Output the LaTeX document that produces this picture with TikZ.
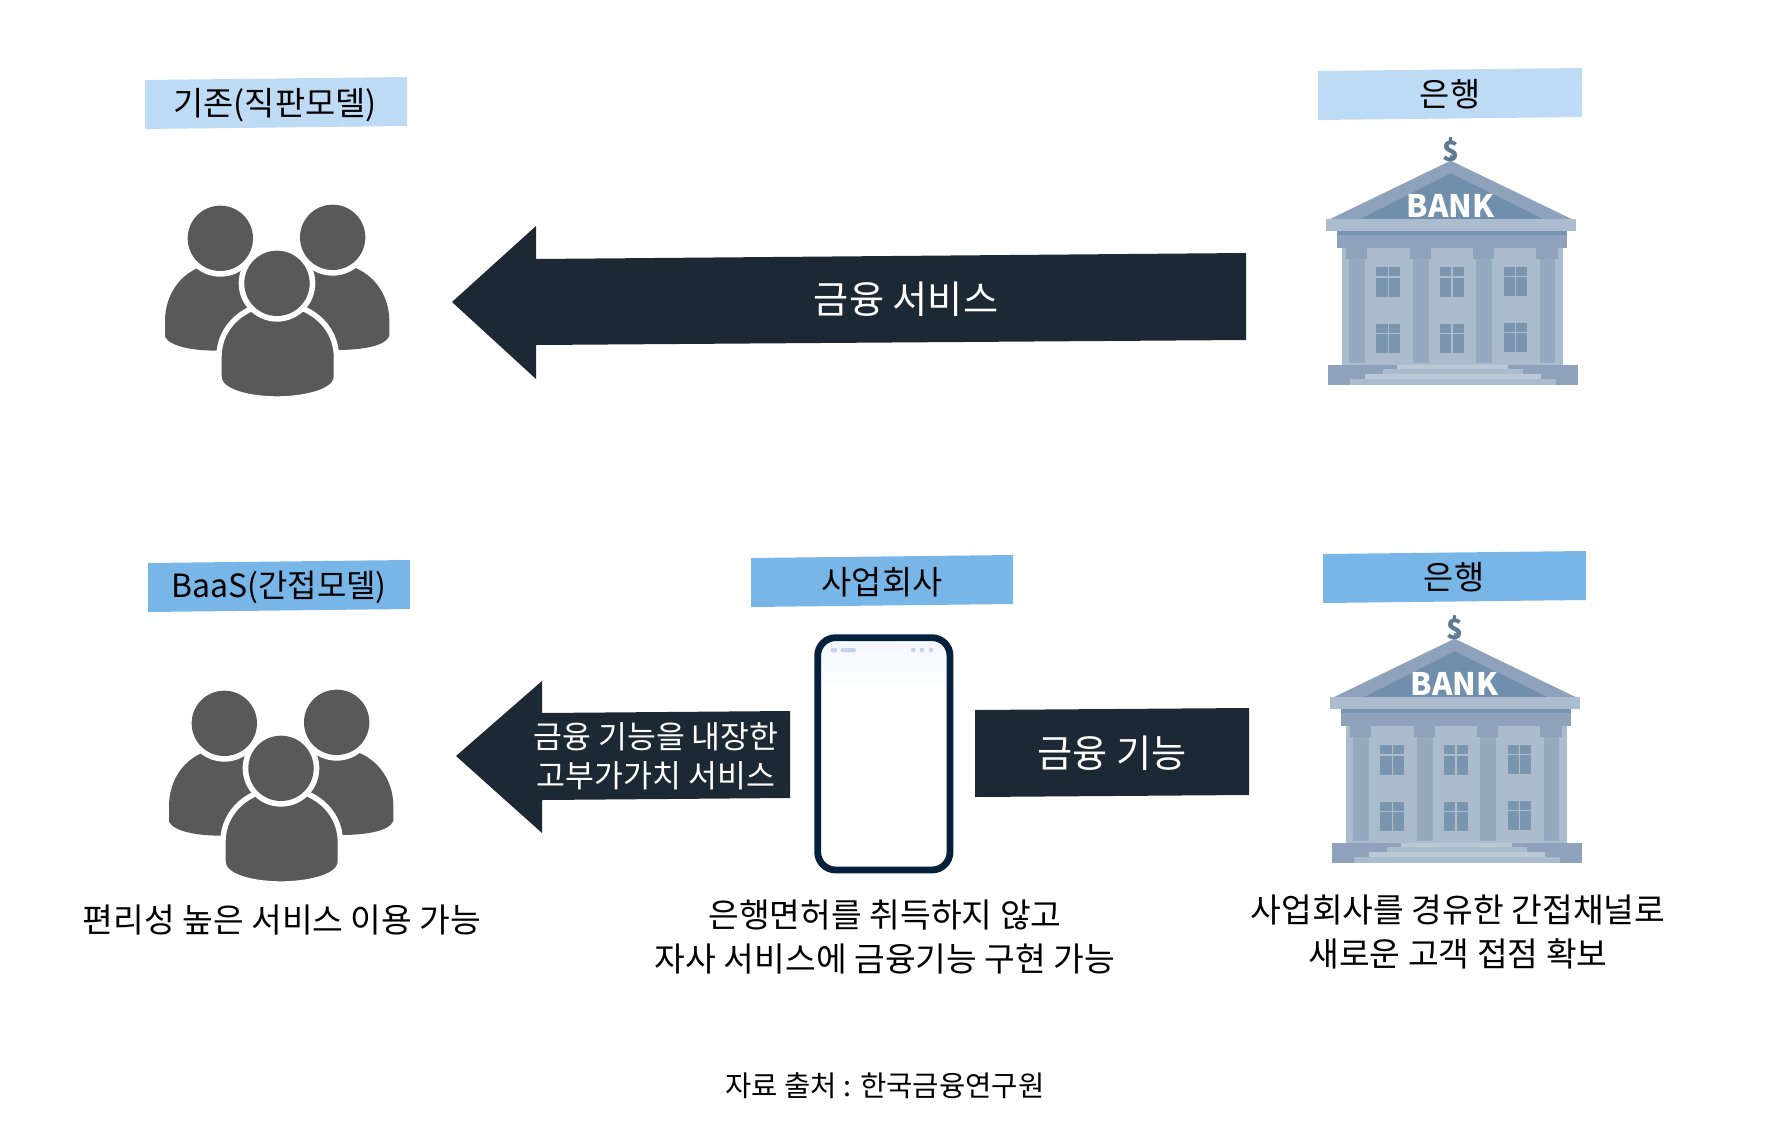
\documentclass[tikz,border=0pt]{standalone}
\usepackage{fontspec}
\setmainfont{Noto Sans CJK KR}
\definecolor{lightlabel}{HTML}{BDDBF4}
\definecolor{midlabel}{HTML}{78B6E8}
\definecolor{arrowdark}{HTML}{1C2935}
\definecolor{persongray}{HTML}{595959}
\definecolor{phoneblue}{HTML}{03203D}
\definecolor{phonetop}{HTML}{F3F8FE}
\definecolor{phonedot}{HTML}{C5D3EA}
\definecolor{bankmid}{HTML}{8EA2BB}
\definecolor{bankdark}{HTML}{6F8FAC}
\definecolor{banklight}{HTML}{AABCCD}
\definecolor{bankcol}{HTML}{95A9C0}
\definecolor{bankwin}{HTML}{7C95AF}
\tikzset{
  x=0.5pt,y=-0.5pt,
  txt/.style={inner sep=0pt,outer sep=0pt,align=center,text=black,font=\fontsize{16.7}{21.6}\selectfont},
  titletxt/.style={txt,font=\fontsize{16.4}{20}\selectfont},
  arrowtxt/.style={inner sep=0pt,align=center,text=white,font=\fontsize{19.1}{22}\selectfont},
  smallarrowtxt/.style={inner sep=0pt,align=center,text=white,font=\fontsize{15.7}{19.5}\selectfont},
  blockarrow/.style={fill=arrowdark,draw=none},
  bmull/.style={draw=banklight,line width=0.7pt},
}
\newcommand{\bankwindow}[4]{%
  \fill[bankwin] (#1,#3) rectangle (#2,#4);
  \draw[bmull] ({(#1+#2)/2},#3) -- ({(#1+#2)/2},#4);
  \draw[bmull] (#1,{#3+(#4-#3)/3}) -- (#2,{#3+(#4-#3)/3});
}
\newcommand{\bankcolumn}[1]{%
  \fill[bankmid] (#1,385) rectangle ({#1+64},418);
  \fill[bankcol] ({#1+10},418) rectangle ({#1+56},730);
}
\newcommand{\bankicon}[3]{%
\begin{scope}[shift={(#1,#2)},scale=1/3]
  \fill[bankdark] (449,105) rectangle (457,125);
  \node[inner sep=0pt,text=bankdark!85!black,font=\fontsize{14}{14}\selectfont\bfseries] (#3dollar) at (453,93) {\$};
  \fill[bankmid] (80,302) -- (452,122) -- (825,302) -- cycle;
  \fill[bankdark] (175,300) -- (452,160) -- (735,300) -- cycle;
  \node[inner sep=0pt,text=white,font=\fontsize{15.5}{16}\selectfont\bfseries] (#3name) at (452,258) {BANK};
  \fill[banklight] (125,385) rectangle (788,735);
  \fill[banklight] (78,298) rectangle (828,333);
  \fill[bankmid] (112,333) rectangle (800,385);
  \fill[bankdark!70!bankmid] (112,333) rectangle (800,345);
  \bankcolumn{138}\bankcolumn{330}\bankcolumn{519}\bankcolumn{709}
  \bankwindow{229}{301}{442}{530}\bankwindow{420}{491}{442}{530}\bankwindow{611}{682}{440}{527}
  \bankwindow{229}{301}{611}{698}\bankwindow{420}{491}{611}{698}\bankwindow{611}{682}{608}{696}
  \fill[bankmid] (83,735) rectangle (833,795);
  \fill[banklight!80!white] (290,735) rectangle (625,748);
  \fill[banklight] (248,748) rectangle (668,763);
  \fill[banklight!80!white] (195,763) rectangle (722,778);
  \fill[banklight] (150,778) rectangle (768,795);
\end{scope}}
\newcommand{\peopleicon}[2]{%
\begin{scope}[shift={(#1,#2)},scale=1/3]
  \fill[persongray] (75,470) -- (75,425) .. controls (75,320) and (150,250) .. (241,250) -- (400,250) -- (400,512) -- (232,512) .. controls (160,512) and (90,500) .. (75,470) -- cycle;
  \fill[persongray] (748,468) -- (748,425) .. controls (748,320) and (670,250) .. (578,250) -- (420,250) -- (420,510) -- (590,510) .. controls (660,510) and (735,500) .. (748,468) -- cycle;
  \fill[white] (241,175) circle[radius=115];
  \fill[white] (578,172) circle[radius=115];
  \fill[persongray] (241,175) circle[radius=98];
  \fill[persongray] (578,172) circle[radius=98];
  \fill[persongray,draw=white,line width=2.7pt] (237,590) -- (237,530) .. controls (237,435) and (320,370) .. (411,370) .. controls (505,370) and (589,435) .. (589,530) -- (589,590) .. controls (589,640) and (480,657) .. (411,657) .. controls (340,657) and (237,640) .. (237,590) -- cycle;
  \fill[white] (411,310) circle[radius=115];
  \fill[persongray] (411,310) circle[radius=98];
\end{scope}}
\begin{document}
\begin{tikzpicture}
\useasboundingbox (0,0) rectangle (1773,1125);
% labels
\fill[lightlabel] (145,80) -- (407,77) -- (407,126) -- (145,129) -- cycle;
\fill[lightlabel] (1318,71) -- (1582,68) -- (1582,117) -- (1318,120) -- cycle;
\fill[midlabel] (148,563) -- (410,560) -- (410,609) -- (148,612) -- cycle;
\fill[midlabel] (751,558) -- (1013,555) -- (1013,604) -- (751,607) -- cycle;
\fill[midlabel] (1323,554) -- (1586,551) -- (1586,600) -- (1323,603) -- cycle;
\node[titletxt] (t1) at (275,105) {기존(직판모델)};
\node[titletxt] (t2) at (1450,94) {은행};
\node[titletxt,font=\fontsize{16}{20}\selectfont] (t3) at (279,587) {BaaS(간접모델)};
\node[titletxt] (t4) at (882,582) {사업회사};
\node[titletxt] (t5) at (1454,577) {은행};
% icons
\peopleicon{140}{180}
\peopleicon{144}{665}
\bankicon{1300}{120}{ba}
\bankicon{1304}{598}{bb}
% arrows
\fill[blockarrow] (452,302) -- (536,226) -- (536,259) -- (1246,253) -- (1246,340) -- (536,345) -- (536,379) -- cycle;
\node[arrowtxt] (a1) at (906,299) {금융 서비스};
\fill[blockarrow] (456,756) -- (542,681) -- (542,713) -- (790,711) -- (790,798) -- (542,800) -- (542,833) -- cycle;
\node[smallarrowtxt] (a2) at (656,756) {금융 기능을 내장한\\고부가가치 서비스};
\fill[blockarrow] (975,710) -- (1249,708) -- (1249,795) -- (975,797) -- cycle;
\node[arrowtxt] (a3) at (1112,753) {금융 기능};
% phone
\begin{scope}[shift={(780,620)},scale=1/3]
  \fill[white] (113,53) rectangle (510,750);
  \shade[top color=phonetop,bottom color=white] (125,68) rectangle (497,230);
  \draw[phoneblue,line width=3.4pt,rounded corners=9pt] (113,53) rectangle (510,750);
  \fill[phonedot,rounded corners=1pt] (152,84) rectangle (172,97);
  \fill[phonedot,rounded corners=1pt] (182,84) rectangle (228,97);
  \fill[phonedot] (400,90) circle[radius=7] (426,90) circle[radius=7] (453,90) circle[radius=7];
\end{scope}
% captions
\node[txt] (c1) at (282,920) {편리성 높은 서비스 이용 가능};
\node[txt] (c2) at (885,937) {은행면허를 취득하지 않고\\자사 서비스에 금융기능 구현 가능};
\node[txt] (c3) at (1458,932) {사업회사를 경유한 간접채널로\\새로운 고객 접점 확보};
\node[txt,font=\fontsize{14.3}{16}\selectfont] (c4) at (885,1086) {자료 출처 : 한국금융연구원};
\end{tikzpicture}
\end{document}
